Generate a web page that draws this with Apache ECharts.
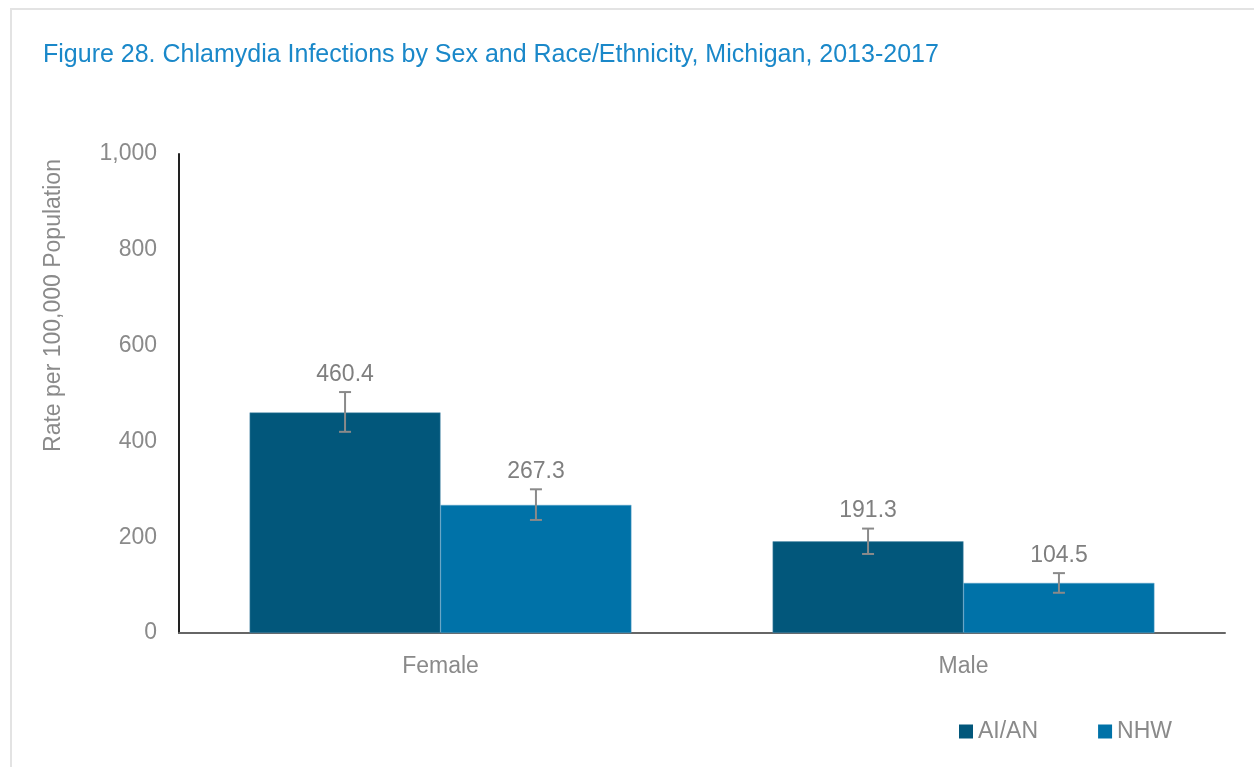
<!DOCTYPE html>
<html>
<head>
<meta charset="utf-8">
<script src="https://cdn.jsdelivr.net/npm/echarts@6/dist/echarts.min.js"></script>
<style>
  html, body { margin: 0; padding: 0; background: #fff; }
  #chart { width: 1254px; height: 767px; }
</style>
</head>
<body>
<div id="chart"></div>
<script>
// data
const categories = ["Female", "Male"];
const seriesNames = ["AI/AN", "NHW"];
const aianRate = [460.4, 191.3];
const nhwRate = [267.3, 104.5];
// 95% CI bounds (estimated from the error bars)
const aianLow = [420, 165];
const aianHigh = [503, 218];
const nhwLow = [236, 84];
const nhwHigh = [300, 125];

const FONT = "'Liberation Sans Narrow', 'Arial Narrow', 'Liberation Sans', sans-serif";
const GREY = "#8a8a8a";
const colors = ["#02577b", "#0072a8"];
const GAP = 0.27;

const chart = echarts.init(document.getElementById("chart"));

// error bar + value label drawn above the upper bound
const errorSeries = (idx, rate, low, high) => ({
  type: "custom",
  name: seriesNames[idx] + " CI",
  z: 5,
  data: categories.map((c, i) => [i, low[i], high[i], rate[i]]),
  renderItem: (params, api) => {
    const band = api.size([1, 0])[0];
    const barW = (band * (1 - GAP)) / 2;
    const off = (idx === 0 ? -1 : 1) * barW / 2;
    const lo = api.coord([api.value(0), api.value(1)]);
    const hi = api.coord([api.value(0), api.value(2)]);
    const x = lo[0] + off;
    const cap = 6;
    const line = { stroke: GREY, lineWidth: 2 };
    return {
      type: "group",
      children: [
        { type: "line", shape: { x1: x, y1: hi[1], x2: x, y2: lo[1] }, style: line },
        { type: "line", shape: { x1: x - cap, y1: hi[1], x2: x + cap, y2: hi[1] }, style: line },
        { type: "line", shape: { x1: x - cap, y1: lo[1], x2: x + cap, y2: lo[1] }, style: line },
        {
          type: "text",
          x: x,
          y: hi[1] - 6,
          style: {
            text: api.value(3).toFixed(1),
            fill: "#7f7f7f",
            font: "23px " + FONT,
            textAlign: "center",
            textVerticalAlign: "bottom",
          },
        },
      ],
    };
  },
});

const option = {
  animation: false,
  title: {
    text: "Figure 28. Chlamydia Infections by Sex and Race/Ethnicity, Michigan, 2013-2017",
    left: 38,
    top: 38,
    textStyle: { color: "#1a88c9", fontFamily: FONT, fontSize: 25, fontWeight: "normal" },
  },
  graphic: [
    {
      type: "rect",
      shape: { x: 11, y: 9, width: 1260, height: 780 },
      style: { fill: "none", stroke: "#e3e3e3", lineWidth: 2 },
      silent: true,
    },
  ],
  legend: {
    data: seriesNames,
    left: 959,
    top: 720,
    padding: 0,
    itemWidth: 14,
    itemHeight: 14,
    itemGap: 60,
    icon: "rect",
    itemStyle: { borderWidth: 0 },
    textStyle: { color: GREY, fontFamily: FONT, fontSize: 23 },
  },
  grid: { left: 179, right: 29, top: 154, bottom: 134 },
  xAxis: {
    type: "category",
    data: categories,
    axisLine: { lineStyle: { color: "#666", width: 2 } },
    axisTick: { show: false },
    axisLabel: { color: GREY, fontFamily: FONT, fontSize: 23, margin: 22 },
  },
  yAxis: {
    type: "value",
    min: 0,
    max: 1000,
    interval: 200,
    name: "Rate per 100,000 Population",
    nameLocation: "middle",
    nameGap: 114,
    nameTextStyle: { color: GREY, fontFamily: FONT, fontSize: 23, padding: [0, 0, 0, 176] },
    axisLine: { show: true, lineStyle: { color: "#222", width: 2 } },
    axisTick: { show: false },
    splitLine: { show: false },
    axisLabel: {
      color: GREY,
      fontFamily: FONT,
      fontSize: 23,
      margin: 22,
      formatter: (v) => v.toLocaleString("en-US"),
    },
  },
  series: [
    {
      name: seriesNames[0],
      type: "bar",
      data: aianRate,
      barGap: "0%",
      barCategoryGap: GAP * 100 + "%",
      itemStyle: { color: colors[0], borderColor: "#5a93b0", borderWidth: 0.5 },
    },
    {
      name: seriesNames[1],
      type: "bar",
      data: nhwRate,
      itemStyle: { color: colors[1], borderColor: "#5aa2c8", borderWidth: 0.5 },
    },
    errorSeries(0, aianRate, aianLow, aianHigh),
    errorSeries(1, nhwRate, nhwLow, nhwHigh),
  ],
};

chart.setOption(option);
</script>
</body>
</html>
